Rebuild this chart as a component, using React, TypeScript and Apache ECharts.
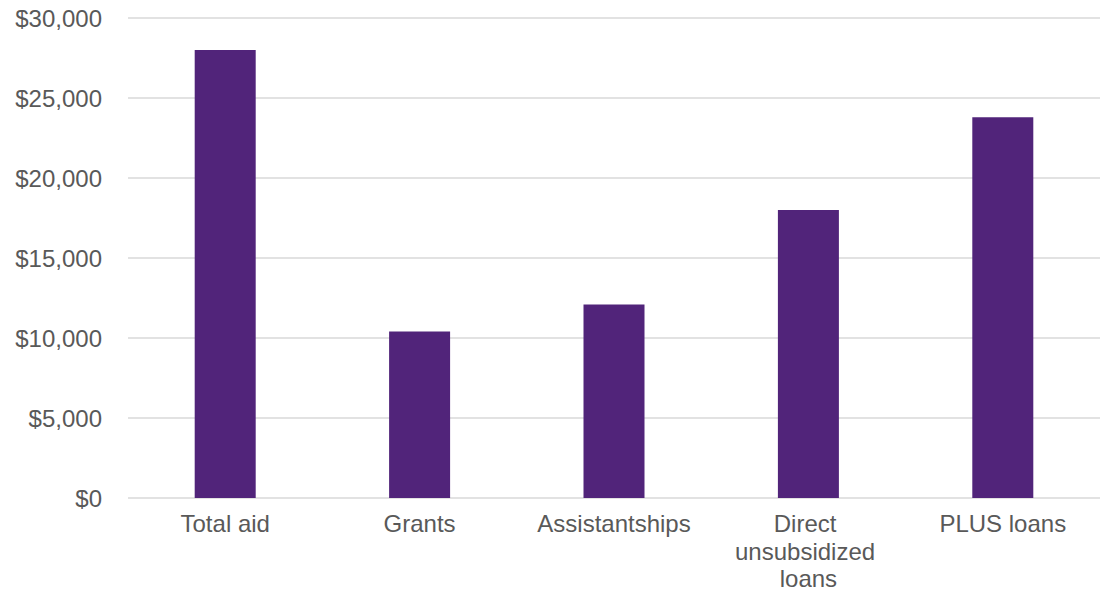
import React, { useEffect, useRef } from "react";
import * as echarts from "echarts";

const categories = ["Total aid", "Grants", "Assistantships", "Direct unsubsidized loans", "PLUS loans"];
const values = [28000, 10400, 12100, 18000, 23800];
const yMin = 0;
const yMax = 30000;
const yInterval = 5000;

const fmt = (v: number) => "$" + v.toLocaleString("en-US");

export default function App() {
  const ref = useRef<HTMLDivElement>(null);
  useEffect(() => {
    if (!ref.current) return;
    const chart = echarts.init(ref.current, undefined, { renderer: "svg" });
    chart.setOption({
      animation: false,
      backgroundColor: "#ffffff",
      grid: { left: 128, right: 0, top: 18, bottom: 95, containLabel: false, outerBoundsMode: "none" },
      xAxis: {
        type: "category",
        data: categories,
        axisLine: { show: false },
        axisTick: { show: false },
        axisLabel: {
          interval: 0,
          margin: 12,
          color: "#595959",
          fontFamily: "Liberation Sans, Arial, sans-serif",
          fontSize: 24,
          lineHeight: 27.5,
          width: 170,
          overflow: "break",
          align: "center",
          hideOverlap: false,
        },
      },
      yAxis: {
        type: "value",
        min: yMin,
        max: yMax,
        interval: yInterval,
        axisLine: { show: false },
        axisTick: { show: false },
        splitLine: { show: true, lineStyle: { color: "#D9D9D9", width: 1.5 } },
        axisLabel: {
          margin: 26,
          color: "#595959",
          fontFamily: "Liberation Sans, Arial, sans-serif",
          fontSize: 24,
          formatter: (v: number) => fmt(v),
        },
      },
      series: [
        {
          type: "bar",
          data: values,
          barWidth: 61,
          itemStyle: { color: "#51247A" },
        },
      ],
    });
    return () => chart.dispose();
  }, []);
  return (
    <div
      ref={ref}
      style={{ position: "fixed", left: 0, top: 0, width: 1100, height: 593, background: "#fff" }}
    />
  );
}
